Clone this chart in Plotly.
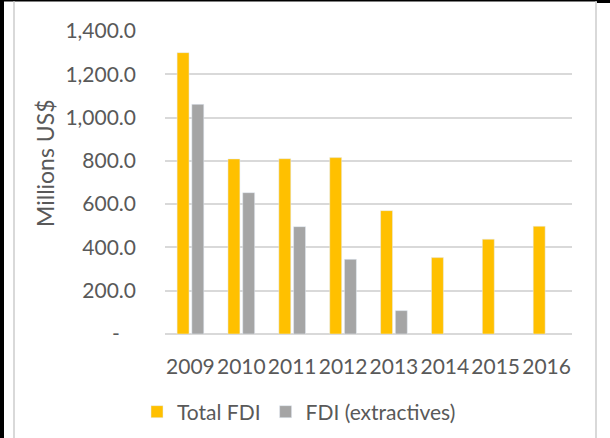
import plotly.graph_objects as go

# Data
years = ["2009", "2010", "2011", "2012", "2013", "2014", "2015", "2016"]
total_fdi = [1300, 809, 810, 815, 570, 353, 438, 498]
fdi_extractives = [1061, 653, 496, 345, 108, None, None, None]

y_tickvals = [0, 200, 400, 600, 800, 1000, 1200, 1400]
y_ticktext = ["-\u00a0\u00a0\u00a0", "200.0", "400.0", "600.0", "800.0",
              "1,000.0", "1,200.0", "1,400.0"]

GOLD = "#FFC000"
GREY = "#A5A5A5"
TEXT = "#595959"
GRID = "#D9D9D9"
FONT = "Lato, 'Open Sans', sans-serif"

W, H = 610, 438
L, R, T, B = 165, 38, 31, 104
PW, PH = W - L - R, H - T - B


def px_x(px):
    return (px - L) / PW


def px_y(py):
    return 1 - (py - T) / PH


fig = go.Figure()
fig.add_trace(go.Bar(x=years, y=total_fdi, name="Total FDI", marker_color=GOLD))
fig.add_trace(go.Bar(x=years, y=fdi_extractives, name="FDI (extractives)",
                     marker_color=GREY))

# frame of the screenshot: dark edges + light chart-area border
shapes = [
    dict(type="rect", xref="paper", yref="paper", x0=px_x(0), x1=px_x(4),
         y0=px_y(H), y1=px_y(0), fillcolor="black", line_width=0, layer="above"),
    dict(type="rect", xref="paper", yref="paper", x0=px_x(0), x1=px_x(W),
         y0=px_y(1.5), y1=px_y(0), fillcolor="black", line_width=0, layer="above"),
    dict(type="rect", xref="paper", yref="paper", x0=px_x(597), x1=px_x(W),
         y0=px_y(3), y1=px_y(0), fillcolor="black", line_width=0, layer="above"),
    dict(type="line", xref="paper", yref="paper", x0=px_x(14), x1=px_x(14),
         y0=px_y(H), y1=px_y(1.5), line=dict(color=GRID, width=2)),
    dict(type="line", xref="paper", yref="paper", x0=px_x(596), x1=px_x(596),
         y0=px_y(H), y1=px_y(1.5), line=dict(color=GRID, width=2)),
]

fig.update_layout(
    width=W, height=H,
    margin=dict(l=L, r=R, t=T, b=B, autoexpand=False),
    paper_bgcolor="white", plot_bgcolor="white",
    font=dict(family=FONT, color=TEXT, size=21),
    barmode="group", bargap=0.42, bargroupgap=0.19,
    shapes=shapes,
    showlegend=True,
    legend=dict(orientation="h", x=px_x(137), xanchor="left",
                y=px_y(412), yanchor="middle",
                font=dict(size=21, color=TEXT),
                bgcolor="rgba(0,0,0,0)"),
    annotations=[dict(text="Millions US$", textangle=-90, xref="paper", yref="paper",
                      x=px_x(45), y=px_y(163), xanchor="center", yanchor="middle",
                      showarrow=False, font=dict(size=23, color=TEXT))],
)
fig.update_xaxes(type="category", showgrid=False, showline=False, ticks="",
                 tickangle=0, tickfont=dict(size=21, color=TEXT), ticklabelstandoff=18)
fig.update_yaxes(range=[0, 1400], tickvals=y_tickvals, ticktext=y_ticktext,
                 showgrid=True, gridcolor=GRID, gridwidth=2,
                 zeroline=True, zerolinecolor=GRID, zerolinewidth=2,
                 ticks="", tickfont=dict(size=21, color=TEXT), ticklabelstandoff=28)

# the page body has a default 8px margin; drop it so the figure sits at 0,0
fig.write_html("out.html", config={"displayModeBar": False},
               post_script="document.body.style.margin='0';")
